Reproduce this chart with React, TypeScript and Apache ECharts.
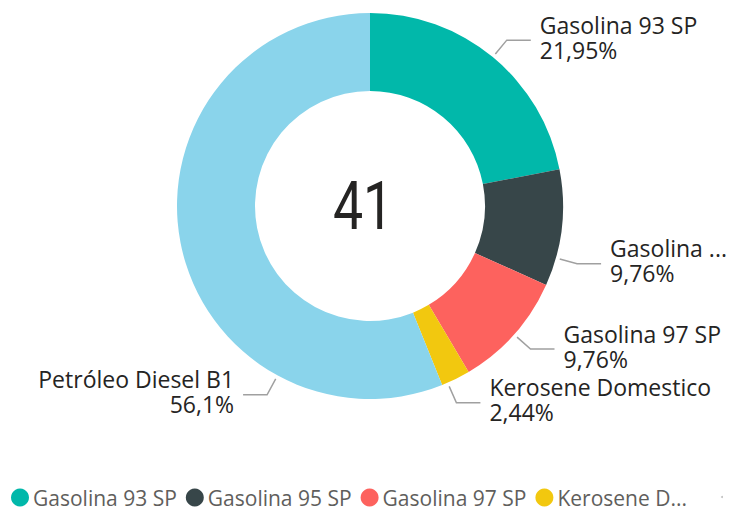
import React, { useEffect, useRef } from "react";
import * as echarts from "echarts";

const categories = [
  "Gasolina 93 SP",
  "Gasolina 95 SP",
  "Gasolina 97 SP",
  "Kerosene Domestico",
  "Petróleo Diesel B1",
];
const counts = [9, 4, 4, 1, 23];
const colors = ["#01B8AA", "#374649", "#FD625E", "#F2C80F", "#8AD4EB"];
const legendNames = categories.slice(0, 4);

// label anchor angle overrides (degrees clockwise from top), like Power BI places them
const anchorOverride: Record<string, number> = {
  "Gasolina 95 SP": 105.6,
  "Kerosene Domestico": 156.3,
  "Petróleo Diesel B1": 208.6,
};

const FONT = "'Open Sans', Roboto, sans-serif";
const CX = 370;
const CY = 206;
const R_IN = 115;
const R_OUT = 193;

function fmtPct(v: number, total: number): string {
  const p = ((v / total) * 100).toFixed(2).replace(/0+$/, "").replace(/\.$/, "");
  return p.replace(".", ",") + "%";
}

export default function App() {
  const ref = useRef<HTMLDivElement>(null);
  useEffect(() => {
    if (!ref.current) return;
    const chart = echarts.init(ref.current, null, { renderer: "svg" });
    const total = counts.reduce((a, b) => a + b, 0);
    const mids: number[] = [];
    let acc = 0;
    counts.forEach((v) => {
      const a0 = (acc / total) * 360;
      acc += v;
      const a1 = (acc / total) * 360;
      mids.push((a0 + a1) / 2);
    });
    const anchors = categories.map((c, i) => anchorOverride[c] ?? mids[i]);

    chart.setOption({
      animation: false,
      color: colors,
      graphic: [
        {
          type: "text",
          x: 363,
          y: CY,
          scaleX: 0.8,
          style: {
            text: String(total),
            fontFamily: "Roboto, sans-serif",
            fontSize: 67,
            fontWeight: 400,
            fill: "#252423",
            align: "center",
            verticalAlign: "middle",
          },
        },
        {
          type: "circle",
          shape: { cx: 722, cy: 497, r: 1 },
          style: { fill: "#C0C0C0" },
        },
      ],
      legend: {
        data: legendNames,
        left: 11,
        top: 487,
        padding: 0,
        icon: "circle",
        itemWidth: 18,
        itemHeight: 18,
        itemGap: 9,
        formatter: (name: string) => (name === "Kerosene Domestico" ? "Kerosene D..." : name),
        textStyle: { fontFamily: FONT, fontSize: 21, color: "#605E5C", padding: [0, 0, 0, -1] },
      },
      series: [
        {
          type: "pie",
          center: [CX, CY],
          radius: [R_IN, R_OUT],
          startAngle: 90,
          clockwise: true,
          avoidLabelOverlap: false,
          label: {
            show: true,
            position: "outside",
            fontFamily: FONT,
            fontSize: 23,
            lineHeight: 25,
            color: "#252423",
            formatter: (p: any) => `${p.name}\n${fmtPct(p.value, total)}`,
          },
          labelLine: {
            show: true,
            length: 14,
            length2: 24,
            smooth: false,
            lineStyle: { color: "#A0A0A0", width: 1.5 },
          },
          labelLayout: (params: any) => {
            const i = params.dataIndex;
            const a = (anchors[i] * Math.PI) / 180;
            const sx = CX + (R_OUT + 4) * Math.sin(a);
            const sy = CY - (R_OUT + 4) * Math.cos(a);
            const ex = CX + (R_OUT + 22) * Math.sin(a);
            const ey = CY - (R_OUT + 22) * Math.cos(a);
            const side = Math.sin(a) >= 0 ? 1 : -1;
            const hx = ex + side * 24;
            return {
              x: hx + side * 9,
              y: ey - 3,
              align: side > 0 ? "left" : "right",
              verticalAlign: "middle",
              labelLinePoints: [
                [sx, sy],
                [ex, ey],
                [hx, ey],
              ],
            };
          },
          emphasis: { disabled: true },
          data: categories.map((c, i) => ({
            name: c,
            value: counts[i],
            label:
              c === "Gasolina 95 SP"
                ? { width: 126, overflow: "truncate", ellipsis: "..." }
                : undefined,
          })),
        },
      ],
    });
    return () => chart.dispose();
  }, []);
  return (
    <div
      ref={ref}
      style={{ position: "fixed", left: 0, top: 0, width: 730, height: 512, background: "#fff" }}
    />
  );
}
